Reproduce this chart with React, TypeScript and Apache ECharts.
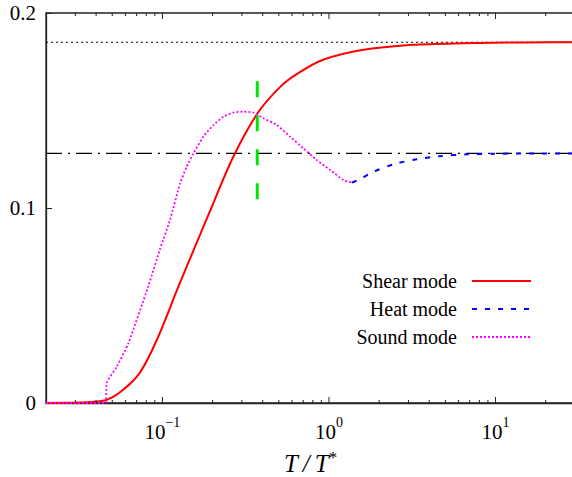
import React, { useEffect, useRef } from "react";
import * as echarts from "echarts";

// axis range
const xMin = 0.02;
const xMax = 30;
const yMin = 0;
const yMax = 0.2;

// asymptotic limits (horizontal reference lines)
const shearLimit = 0.185;
const heatLimit = 0.128;

// vertical marker
const markerX = 0.371;
const markerTop = 0.165;
const markerBottom = 0.104;

// tick positions on the log axis
const majorTicks = [0.1, 1, 10];
const minorTicks = [
  0.03, 0.04, 0.05, 0.06, 0.07, 0.08, 0.09,
  0.2, 0.3, 0.4, 0.5, 0.6, 0.7, 0.8, 0.9,
  2, 3, 4, 5, 6, 7, 8, 9, 20,
];

// Shear mode (red)
const shearX = [0.02, 0.03, 0.0367, 0.0462, 0.0579, 0.0733, 0.0925, 0.1245, 0.155, 0.1932, 0.2655, 0.3733, 0.508, 0.65, 0.9226, 1.58, 3.16, 6.3, 15, 30];
const shearY = [0, 0.0002, 0.0005, 0.0016, 0.0067, 0.0156, 0.0323, 0.0595, 0.079, 0.0985, 0.126, 0.1487, 0.162, 0.169, 0.176, 0.181, 0.1837, 0.1845, 0.1849, 0.185];

// Sound mode (magenta)
const soundX = [0.02, 0.0458, 0.0462, 0.0532, 0.0624, 0.0822, 0.0968, 0.1112, 0.1276, 0.14, 0.1535, 0.1762, 0.2023, 0.2323, 0.2667, 0.3062, 0.3516, 0.4036, 0.4853, 0.5834, 0.7015, 0.8453, 1.016, 1.222, 1.371];
const soundY = [0, 0, 0.010, 0.0186, 0.0306, 0.0598, 0.079, 0.094, 0.1126, 0.1212, 0.128, 0.1366, 0.1425, 0.1468, 0.1489, 0.1494, 0.1489, 0.146, 0.1426, 0.1366, 0.1306, 0.1246, 0.1195, 0.1143, 0.113];

// Heat mode (blue)
const heatX = [1.371, 1.538, 1.849, 2.495, 3.365, 4.645, 6.73, 9.72, 16.8, 30];
const heatY = [0.113, 0.1148, 0.1186, 0.1226, 0.125, 0.1266, 0.1275, 0.1278, 0.128, 0.128];

const legendNames = ["Shear mode", "Heat mode", "Sound mode"];

const FONT = "Liberation Serif";
const AXIS_COLOR = "#222";

const zip = (xs: number[], ys: number[]) => xs.map((x, i) => [x, ys[i]]);

export default function App() {
  const ref = useRef<HTMLDivElement>(null);

  useEffect(() => {
    if (!ref.current) return;
    const chart = echarts.init(ref.current, undefined, { renderer: "svg" });

    const tickData = [
      ...majorTicks.map((t) => [t, 0, 1]),
      ...minorTicks.map((t) => [t, 0, 0]),
    ];

    chart.setOption({
      animation: false,
      backgroundColor: "#fff",
      textStyle: { fontFamily: FONT },
      grid: {
        left: 46,
        top: 13,
        right: -3,
        bottom: 74,
        show: true,
        borderColor: AXIS_COLOR,
        borderWidth: 1.3,
        containLabel: false,
        outerBoundsMode: "none",
      },
      legend: {
        data: legendNames,
        orient: "vertical",
        align: "right",
        right: 35,
        top: 266,
        itemWidth: 59,
        itemHeight: 14,
        itemGap: 8,
        selectedMode: false,
        itemStyle: { opacity: 0 },
        textStyle: {
          fontFamily: FONT,
          fontSize: 20,
          color: "#000",
          padding: [0, 10, 0, 0],
        },
      },
      xAxis: {
        type: "log",
        logBase: 10,
        min: xMin,
        max: xMax,
        axisLine: { show: true, lineStyle: { color: AXIS_COLOR, width: 1.3 } },
        axisTick: { show: false },
        splitLine: { show: false },
        axisLabel: {
          margin: 12,
          showMinLabel: false,
          showMaxLabel: false,
          formatter: (v: number) => {
            const e = Math.log10(v);
            if (Math.abs(e - Math.round(e)) > 1e-6) return "";
            const n = Math.round(e);
            return `{b|10}{s|${n < 0 ? "\u2212" + -n : n}}`;
          },
          rich: {
            b: { fontFamily: FONT, fontSize: 21, color: "#000" },
            s: { fontFamily: FONT, fontSize: 14, color: "#000", padding: [0, 0, 20, 0] },
          },
        },
        name: "{i|T\u2009/\u2009T}{s|*}",
        nameLocation: "middle",
        nameGap: 46,
        nameTextStyle: {
          rich: {
            i: { fontFamily: FONT, fontStyle: "italic", fontSize: 25, color: "#000" },
            s: { fontFamily: FONT, fontSize: 17, color: "#000", padding: [0, 0, 12, 0] },
          },
        },
      },
      yAxis: {
        type: "value",
        min: yMin,
        max: yMax,
        interval: 0.1,
        axisLine: { show: true, lineStyle: { color: AXIS_COLOR, width: 1.3 } },
        axisTick: { show: true, inside: true, length: 6, lineStyle: { color: AXIS_COLOR } },
        splitLine: { show: false },
        axisLabel: {
          margin: 10,
          fontFamily: FONT,
          fontSize: 21,
          color: "#000",
        },
      },
      series: [
        {
          name: "shearLimit",
          type: "line",
          data: [[xMin, shearLimit], [xMax, shearLimit]],
          symbol: "none",
          silent: true,
          z: 1,
          lineStyle: { color: "#000", width: 1, type: [2, 3] },
        },
        {
          name: "heatLimit",
          type: "line",
          data: [[xMin, heatLimit], [xMax, heatLimit]],
          symbol: "none",
          silent: true,
          z: 1,
          lineStyle: { color: "#000", width: 1.2, type: [16, 6, 2, 6] },
        },
        {
          name: "Shear mode",
          type: "line",
          data: zip(shearX, shearY),
          symbol: "none",
          smooth: 0.3,
          z: 3,
          lineStyle: { color: "#ff0000", width: 2 },
          itemStyle: { color: "#ff0000" },
        },
        {
          name: "Heat mode",
          type: "line",
          data: zip(heatX, heatY),
          symbol: "none",
          smooth: 0.3,
          z: 3,
          lineStyle: { color: "#0000ff", width: 2, type: [5, 8] },
          itemStyle: { color: "#0000ff" },
        },
        {
          name: "Sound mode",
          type: "line",
          data: zip(soundX, soundY),
          symbol: "none",
          smooth: 0.2,
          z: 3,
          lineStyle: { color: "#ff00ff", width: 1.8, type: [2, 2] },
          itemStyle: { color: "#ff00ff" },
        },
        {
          name: "marker",
          type: "line",
          data: [[markerX, markerTop], [markerX, markerBottom]],
          symbol: "none",
          silent: true,
          z: 4,
          lineStyle: { color: "#00e600", width: 3, type: [16, 18] },
        },
        {
          name: "ticks",
          type: "custom",
          silent: true,
          z: 5,
          data: tickData,
          renderItem: (params: any, api: any) => {
            const x = api.value(0);
            const len = api.value(2) ? 6 : 3;
            const pb = api.coord([x, yMin]);
            const pt = api.coord([x, yMax]);
            const style = { stroke: AXIS_COLOR, lineWidth: 1 };
            return {
              type: "group",
              children: [
                { type: "line", shape: { x1: pb[0], y1: pb[1], x2: pb[0], y2: pb[1] - len }, style },
                { type: "line", shape: { x1: pt[0], y1: pt[1], x2: pt[0], y2: pt[1] + len }, style },
              ],
            };
          },
        },
      ],
    });

    return () => chart.dispose();
  }, []);

  return (
    <div
      ref={ref}
      style={{ position: "absolute", left: 0, top: 0, width: 572, height: 477 }}
    />
  );
}
